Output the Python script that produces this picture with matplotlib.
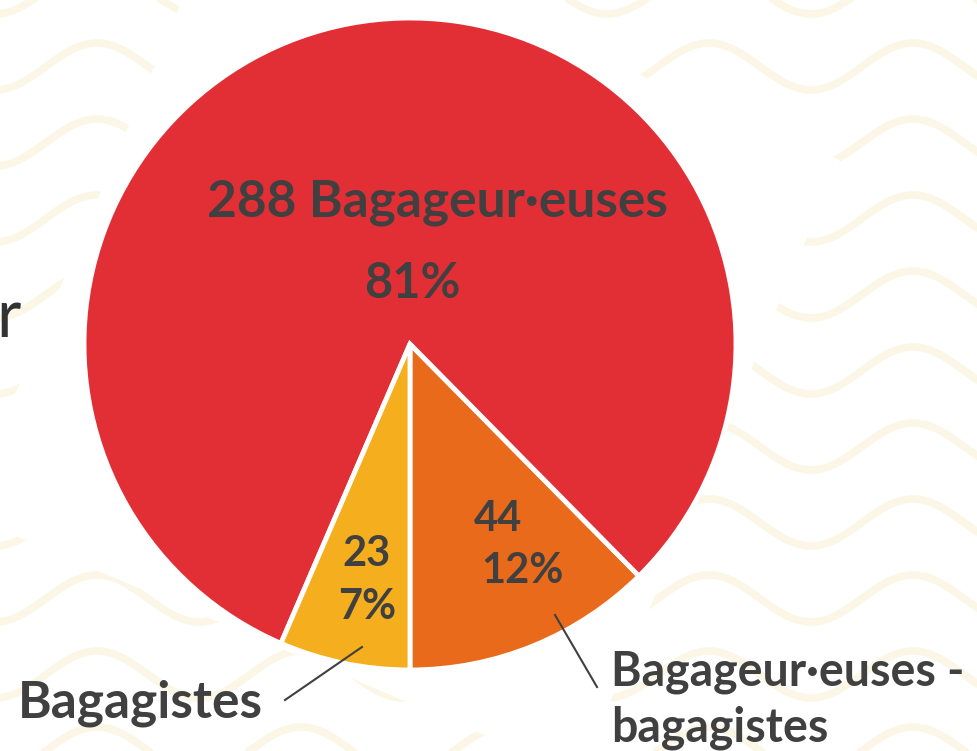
import numpy as np
import matplotlib
matplotlib.use('Agg')
import matplotlib.pyplot as plt
from matplotlib.patches import Polygon

# ---- data ----
categories = ['Bagageur·euses - bagagistes', 'Bagageur·euses', 'Bagagistes']
counts = [44, 288, 23]
percents = ['12%', '81%', '7%']
colors = ['#E96A1A', '#E22F36', '#F4AE1E']

W, H = 978, 751
TXT = '#404040'
FONT = ['Lato', 'DejaVu Sans']

fig = plt.figure(figsize=(W / 100, H / 100), dpi=100)
ax = fig.add_axes([0, 0, 1, 1])
ax.set_xlim(0, W)
ax.set_ylim(H, 0)
ax.set_aspect('equal')
ax.axis('off')

# background waves
xs = np.linspace(-10, W + 10, 800)
for k in range(-1, 11):
    yc = 66.5 + 76 * k
    ax.plot(xs, yc - 23.5 * np.cos(2 * np.pi * (xs - 97) / 204),
            color='#FCF6E6', lw=5.5, zorder=0, solid_capstyle='round')

# white rotated panel behind pie
ax.add_patch(Polygon([(225, -101), (840, 160), (579, 775), (-36, 514)],
                     closed=True, facecolor='white', edgecolor='none', zorder=1))

# pie (y axis inverted -> clockwise in data = counter-clockwise on screen)
wedges, _ = ax.pie(counts, colors=colors, startangle=90, counterclock=False,
                   center=(410, 344), radius=326, frame=True,
                   wedgeprops=dict(edgecolor='white', linewidth=3.5))
for w in wedges:
    w.set_zorder(2)
ax.set_xlim(0, W)
ax.set_ylim(H, 0)
ax.axis('off')

kw = dict(fontweight='bold', color=TXT, ha='center', va='center',
          family=FONT, zorder=5)
ax.text(437, 203, f'{counts[1]} {categories[1]}', fontsize=37, **kw)
ax.text(412, 284, percents[1], fontsize=35, **kw)
ax.text(498, 519, str(counts[0]), fontsize=30, **kw)
ax.text(522, 571, percents[0], fontsize=30, **kw)
ax.text(367, 554, str(counts[2]), fontsize=30, **kw)
ax.text(367, 607, percents[2], fontsize=30, **kw)

# outside labels with leader lines
ax.plot([285, 362], [700, 647], color=TXT, lw=1.5, zorder=5)
ax.text(140, 703, categories[2], fontsize=37, **kw)
ax.plot([555, 597], [615, 687], color=TXT, lw=1.5, zorder=5)
kwl = dict(kw, ha='left')
ax.text(611, 672, 'Bagageur·euses -', fontsize=33.5, **kwl)
ax.text(611, 728, 'bagagistes', fontsize=33.5, **kwl)

# cut-off text at left edge (as in the reference)
ax.text(-4, 318, 'r', fontsize=48, color='#333333', ha='left', va='center',
        family=FONT, zorder=5)

fig.savefig('out.png', dpi=100)
